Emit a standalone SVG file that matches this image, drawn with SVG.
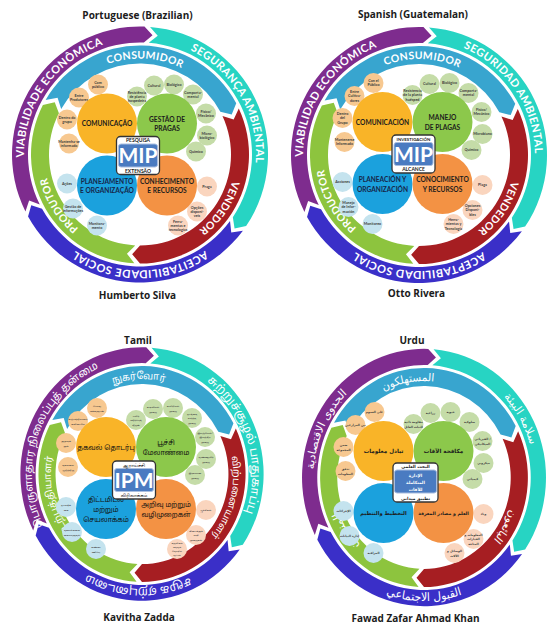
<svg xmlns="http://www.w3.org/2000/svg" xmlns:xlink="http://www.w3.org/1999/xlink" width="558" height="640" viewBox="0 0 558 640">
<style>
.ti{font-family:'Open Sans','Liberation Sans',sans-serif;font-weight:700;font-size:10px;fill:#1c1c1c;text-anchor:middle}
.ro{font-family:Lato,'Liberation Sans',sans-serif;font-weight:700;font-size:11px;fill:#fff;letter-spacing:.4px;text-anchor:middle}
.ri{font-family:Lato,'Liberation Sans',sans-serif;font-weight:700;font-size:10.5px;fill:#fff;letter-spacing:.3px;text-anchor:middle}
.rot{font-family:'Noto Sans Tamil','Lohit Tamil','Noto Sans',sans-serif;font-size:11px;fill:#fff;text-anchor:middle}
.rit{font-family:'Noto Sans Tamil','Lohit Tamil','Noto Sans',sans-serif;font-size:10px;fill:#fff;text-anchor:middle}
.roa{font-family:'DejaVu Sans',sans-serif;font-size:11.5px;fill:#fff;text-anchor:middle}
.ria{font-family:'DejaVu Sans',sans-serif;font-size:11px;fill:#fff;text-anchor:middle}
.bo{fill:#F7C890}.bg{fill:#C5DCA8}.bb{fill:#C4E3EE}.bs{fill:#FAD5BE}
.bt{font-family:Lato,'Liberation Sans',sans-serif;font-weight:700;font-size:3.7px;fill:#3b3b3b;text-anchor:middle}
.btt{font-family:'Noto Sans Tamil','Lohit Tamil','Noto Sans',sans-serif;font-size:2.4px;fill:#3b3b3b;text-anchor:middle}
.bta{font-family:'DejaVu Sans',sans-serif;font-weight:700;font-size:3px;fill:#3b3b3b;text-anchor:middle}
.lb{font-family:Lato,'Liberation Sans',sans-serif;font-weight:700;font-size:6.6px;fill:#1d1d1d;text-anchor:middle}
.lbb{fill:#16264a}
.lt{font-family:'Noto Sans Tamil','Lohit Tamil','Noto Sans',sans-serif;font-size:6.8px;fill:#111;text-anchor:middle}
.la{font-family:'DejaVu Sans',sans-serif;font-weight:700;font-size:5.6px;fill:#1d1d1d;text-anchor:middle}
.bx1{fill:#fff;stroke:#333;stroke-width:1.3}
.bx2{fill:#4A7BC1;stroke:#A9BEDF;stroke-width:1}
.mip{font-family:Lato,'Liberation Sans',sans-serif;font-weight:700;font-size:21px;fill:#fff;text-anchor:middle}
.bxt{font-family:Lato,'Liberation Sans',sans-serif;font-weight:700;font-size:5px;fill:#222;text-anchor:middle}
.bxtt{font-family:'Noto Sans Tamil','Lohit Tamil','Noto Sans',sans-serif;font-size:4.2px;fill:#222;text-anchor:middle}
.bxta{font-family:'DejaVu Sans',sans-serif;font-weight:700;font-size:4.3px;fill:#222;text-anchor:middle}
.bxtaw{font-family:'DejaVu Sans',sans-serif;font-weight:700;font-size:4.3px;fill:#fff;text-anchor:middle}
.co{fill:#F9B428}.cg{fill:#8CC84B}.cb{fill:#1BA1DD}.cs{fill:#F39244}
</style>
<defs>
<path id="aPu" d="M-74.56 88.86 A116 116 0 0 1 58 -100.46"/>
<path id="aTe" d="M-49.02 -105.13 A116 116 0 0 1 66.54 95.02"/>
<path id="aIn" d="M115.56 10.11 A116 116 0 0 1 -115.56 10.11"/>
<path id="aInR" d="M-122.53 10.72 A123 123 0 0 0 122.53 10.72"/>
<path id="aCo" d="M-95.63 -8.37 A96 96 0 0 1 95.63 -8.37"/>
<path id="aVe" d="M60.41 -74.61 A96 96 0 0 1 -46.54 83.96"/>
<path id="aPr" d="M40.57 87.01 A96 96 0 0 1 -55.06 -78.64"/>
<g id="rings">
<path fill="#27D4C3" d="M10.04 -127.61 A128 128 0 0 1 106.12 71.58 L94.56 73.88 L92.85 62.63 A112 112 0 0 0 8.79 -111.66 L17.74 -118.68 Z"/>
<path fill="#3A2FC8" d="M102.89 76.14 A128 128 0 0 1 -111.95 62.06 L-108.76 50.71 L-97.96 54.3 A112 112 0 0 0 90.03 66.62 L91.25 77.93 Z"/>
<path fill="#7E2C8E" d="M-114.55 57.11 A128 128 0 0 1 4.47 -127.92 L12.54 -119.34 L3.91 -111.93 A112 112 0 0 0 -100.23 49.97 L-110.87 45.92 Z"/>
<path fill="#38A5CF" d="M-94.4 -54.5 A109 109 0 0 1 96.24 -51.17 L91.71 -39.88 L80.35 -42.72 A91 91 0 0 0 -78.81 -45.5 L-82.41 -56.64 Z"/>
<path fill="#A61E22" d="M98.79 -46.07 A109 109 0 0 1 0 109 L-7.85 99.69 L0 91 A91 91 0 0 0 82.47 -38.46 L93.67 -35.02 Z"/>
<path fill="#8DC43E" d="M-5.7 108.85 A109 109 0 0 1 -97.12 -49.48 L-85.26 -52.25 L-81.08 -41.31 A91 91 0 0 0 -4.76 90.88 L-13.05 99.14 Z"/>
</g>
</defs>

<!-- ============ PORTUGUESE ============ -->
<g id="portuguese">
<text class="ti" x="137.5" y="19">Portuguese (Brazilian)</text>
<text class="ti" x="137.5" y="299">Humberto Silva</text>
<g id="pt-rings" transform="translate(140,154.5)">
<use href="#rings"/>
<text class="ro"><textPath href="#aPu" startOffset="50%">VIABILIDADE ECONÔMICA</textPath></text>
<text class="ro"><textPath href="#aTe" startOffset="50%">SEGURANÇA AMBIENTAL</textPath></text>
<text class="ro"><textPath href="#aIn" startOffset="50%">ACEITABILIDADE SOCIAL</textPath></text>
<text class="ri"><textPath href="#aCo" startOffset="51.8%">CONSUMIDOR</textPath></text>
<text class="ri"><textPath href="#aVe" startOffset="50%">VENDEDOR</textPath></text>
<text class="ri"><textPath href="#aPr" startOffset="48.8%">PRODUTOR</textPath></text>
</g>
<g id="pt-core" transform="translate(137,154.5)">
<g id="pt-o1" transform="translate(-39,-70)"><circle r="10" class="bo"/><text class="bt"><tspan x="0" y="-0.8">Com</tspan><tspan x="0" y="3.4">público</tspan></text></g>
<g id="pt-o2" transform="translate(-58,-57)"><circle r="10" class="bo"/><text class="bt"><tspan x="0" y="-0.8">Entre</tspan><tspan x="0" y="3.4">Produtores</tspan></text></g>
<g id="pt-o3" transform="translate(-70,-35)"><circle r="10" class="bo"/><text class="bt"><tspan x="0" y="-0.8">Dentro do</tspan><tspan x="0" y="3.4">grupo</tspan></text></g>
<g id="pt-o4" transform="translate(-68,-11)"><circle r="10" class="bo"/><text class="bt"><tspan x="0" y="-0.8">Mantenha-se</tspan><tspan x="0" y="3.4">informado</tspan></text></g>
<g id="pt-g1" transform="translate(0,-58)"><circle r="10" class="bg"/><text class="bt"><tspan x="0" y="-2.9">Resistência</tspan><tspan x="0" y="1.3">de planta</tspan><tspan x="0" y="5.5">hospedeira</tspan></text></g>
<g id="pt-g2" transform="translate(17,-69)"><circle r="10" class="bg"/><text class="bt" y="1.3">Cultural</text></g>
<g id="pt-g3" transform="translate(37,-70)"><circle r="10" class="bg"/><text class="bt" y="1.3">Biológico</text></g>
<g id="pt-g4" transform="translate(56,-60)"><circle r="10" class="bg"/><text class="bt"><tspan x="0" y="-0.8">Comporta-</tspan><tspan x="0" y="3.4">mental</tspan></text></g>
<g id="pt-g5" transform="translate(69,-41)"><circle r="10" class="bg"/><text class="bt"><tspan x="0" y="-0.8">Físico/</tspan><tspan x="0" y="3.4">Mecânico</tspan></text></g>
<g id="pt-g6" transform="translate(70,-19)"><circle r="10" class="bg"/><text class="bt"><tspan x="0" y="-0.8">Micro-</tspan><tspan x="0" y="3.4">biológico</tspan></text></g>
<g id="pt-g7" transform="translate(59,-3)"><circle r="10" class="bg"/><text class="bt" y="1.3">Químico</text></g>
<g id="pt-b1" transform="translate(-70,29)"><circle r="10" class="bb"/><text class="bt" y="1.3">Ações</text></g>
<g id="pt-b2" transform="translate(-64,54)"><circle r="10" class="bb"/><text class="bt"><tspan x="0" y="-0.8">Gestão de</tspan><tspan x="0" y="3.4">informações</tspan></text></g>
<g id="pt-b3" transform="translate(-40,71)"><circle r="10" class="bb"/><text class="bt"><tspan x="0" y="-0.8">Monitora-</tspan><tspan x="0" y="3.4">mento</tspan></text></g>
<g id="pt-s1" transform="translate(70,32)"><circle r="10" class="bs"/><text class="bt" y="1.3">Praga</text></g>
<g id="pt-s2" transform="translate(60,57)"><circle r="10" class="bs"/><text class="bt"><tspan x="0" y="-2.9">Opções</tspan><tspan x="0" y="1.3">disponí-</tspan><tspan x="0" y="5.5">veis</tspan></text></g>
<g id="pt-s3" transform="translate(41,71)"><circle r="10" class="bs"/><text class="bt"><tspan x="0" y="-2.9">Ferra-</tspan><tspan x="0" y="1.3">mentas e</tspan><tspan x="0" y="5.5">tecnologias</tspan></text></g>
<g id="pt-com" transform="translate(-30,-31)"><circle r="30" class="co"/><text class="lb" y="2.5">COMUNICAÇÃO</text></g>
<g id="pt-ges" transform="translate(30,-31)"><circle r="30" class="cg"/><text class="lb"><tspan x="0" y="-2">GESTÃO DE</tspan><tspan x="0" y="7.8">PRAGAS</tspan></text></g>
<g id="pt-pla" transform="translate(-30,31)"><circle r="30" class="cb"/><text class="lb lbb"><tspan x="0" y="-2">PLANEJAMENTO</tspan><tspan x="0" y="7.8">E ORGANIZAÇÃO</tspan></text></g>
<g id="pt-con" transform="translate(30,31)"><circle r="30" class="cs"/><text class="lb"><tspan x="0" y="-2">CONHECIMENTO</tspan><tspan x="0" y="7.8">E RECURSOS</tspan></text></g>
<g id="pt-mip" transform="translate(1,1)"><rect x="-21.5" y="-19" width="43" height="38" rx="4" class="bx1"/><rect x="-19.5" y="-11.5" width="39" height="23" rx="2.5" class="bx2"/><text class="mip" y="7.5">MIP</text><text class="bxt" y="-13.3">PESQUISA</text><text class="bxt" y="17">EXTENSÃO</text></g>
</g>
</g>

<!-- ============ SPANISH ============ -->
<g id="spanish">
<text class="ti" x="413" y="18">Spanish (Guatemalan)</text>
<text class="ti" x="416.5" y="297">Otto Rivera</text>
<g id="es-rings" transform="translate(419,155)">
<use href="#rings"/>
<text class="ro"><textPath href="#aPu" startOffset="49.4%">VIABILIDAD ECONÓMICA</textPath></text>
<text class="ro"><textPath href="#aTe" startOffset="47.6%">SEGURIDAD AMBIENTAL</textPath></text>
<text class="ro"><textPath href="#aIn" startOffset="50%">ACEPTABILIDAD SOCIAL</textPath></text>
<text class="ri"><textPath href="#aCo" startOffset="51.2%">CONSUMIDOR</textPath></text>
<text class="ri"><textPath href="#aVe" startOffset="50%">VENDEDOR</textPath></text>
<text class="ri"><textPath href="#aPr" startOffset="50.6%">PRODUCTOR</textPath></text>
</g>
<g id="es-core" transform="translate(412.5,153)">
<g id="es-o1" transform="translate(-39,-70)"><circle r="10" class="bo"/><text class="bt"><tspan x="0" y="-0.8">Con el</tspan><tspan x="0" y="3.4">Público</tspan></text></g>
<g id="es-o2" transform="translate(-58,-57)"><circle r="10" class="bo"/><text class="bt"><tspan x="0" y="-2.9">Entre</tspan><tspan x="0" y="1.3">Cultiva-</tspan><tspan x="0" y="5.5">dores</tspan></text></g>
<g id="es-o3" transform="translate(-70,-35)"><circle r="10" class="bo"/><text class="bt"><tspan x="0" y="-2.9">Dentro</tspan><tspan x="0" y="1.3">del</tspan><tspan x="0" y="5.5">Grupo</tspan></text></g>
<g id="es-o4" transform="translate(-68,-11)"><circle r="10" class="bo"/><text class="bt"><tspan x="0" y="-0.8">Mantenerse</tspan><tspan x="0" y="3.4">Informado</tspan></text></g>
<g id="es-g1" transform="translate(0,-58)"><circle r="10" class="bg"/><text class="bt"><tspan x="0" y="-2.9">Resistencia</tspan><tspan x="0" y="1.3">de la planta</tspan><tspan x="0" y="5.5">huésped</tspan></text></g>
<g id="es-g2" transform="translate(17,-69)"><circle r="10" class="bg"/><text class="bt" y="1.3">Cultural</text></g>
<g id="es-g3" transform="translate(37,-70)"><circle r="10" class="bg"/><text class="bt" y="1.3">Biológico</text></g>
<g id="es-g4" transform="translate(56,-60)"><circle r="10" class="bg"/><text class="bt"><tspan x="0" y="-0.8">Comporta-</tspan><tspan x="0" y="3.4">mental</tspan></text></g>
<g id="es-g5" transform="translate(69,-41)"><circle r="10" class="bg"/><text class="bt"><tspan x="0" y="-0.8">Físico/</tspan><tspan x="0" y="3.4">Mecánico</tspan></text></g>
<g id="es-g6" transform="translate(70,-19)"><circle r="10" class="bg"/><text class="bt" y="1.3">Microbiano</text></g>
<g id="es-g7" transform="translate(59,-3)"><circle r="10" class="bg"/><text class="bt" y="1.3">Químico</text></g>
<g id="es-b1" transform="translate(-70,29)"><circle r="10" class="bb"/><text class="bt" y="1.3">Acciones</text></g>
<g id="es-b2" transform="translate(-64,54)"><circle r="10" class="bb"/><text class="bt"><tspan x="0" y="-2.9">Manejo</tspan><tspan x="0" y="1.3">de Infor-</tspan><tspan x="0" y="5.5">mación</tspan></text></g>
<g id="es-b3" transform="translate(-40,71)"><circle r="10" class="bb"/><text class="bt" y="1.3">Monitoreo</text></g>
<g id="es-s1" transform="translate(70,32)"><circle r="10" class="bs"/><text class="bt" y="1.3">Plaga</text></g>
<g id="es-s2" transform="translate(60,57)"><circle r="10" class="bs"/><text class="bt"><tspan x="0" y="-2.9">Opciones</tspan><tspan x="0" y="1.3">Disponi-</tspan><tspan x="0" y="5.5">bles</tspan></text></g>
<g id="es-s3" transform="translate(41,71)"><circle r="10" class="bs"/><text class="bt"><tspan x="0" y="-2.9">Herra-</tspan><tspan x="0" y="1.3">mientas y</tspan><tspan x="0" y="5.5">Tecnología</tspan></text></g>
<g id="es-com" transform="translate(-30,-31)"><circle r="30" class="co"/><text class="lb" y="2.5">COMUNICACIÓN</text></g>
<g id="es-man" transform="translate(30,-31)"><circle r="30" class="cg"/><text class="lb"><tspan x="0" y="-2">MANEJO</tspan><tspan x="0" y="7.8">DE PLAGAS</tspan></text></g>
<g id="es-pla" transform="translate(-30,31)"><circle r="30" class="cb"/><text class="lb lbb"><tspan x="0" y="-2">PLANEACIÓN Y</tspan><tspan x="0" y="7.8">ORGANIZACIÓN</tspan></text></g>
<g id="es-con" transform="translate(30,31)"><circle r="30" class="cs"/><text class="lb"><tspan x="0" y="-2">CONOCIMIENTO</tspan><tspan x="0" y="7.8">Y RECURSOS</tspan></text></g>
<g id="es-mip" transform="translate(1,1)"><rect x="-21.5" y="-19" width="43" height="38" rx="4" class="bx1"/><rect x="-19.5" y="-11.5" width="39" height="23" rx="2.5" class="bx2"/><text class="mip" y="7.5">MIP</text><text class="bxt" y="-13.3" style="font-size:4.4px">INVESTIGACIÓN</text><text class="bxt" y="17">ALCANCE</text></g>
</g>
</g>

<!-- ============ TAMIL ============ -->
<g id="tamil">
<text class="ti" x="138" y="344">Tamil</text>
<text class="ti" x="139" y="621">Kavitha Zadda</text>
<g id="ta-rings" transform="translate(142,474) scale(0.95,0.99)">
<use href="#rings"/>
<text class="rot"><textPath href="#aPu" startOffset="41.2%">பொருளாதார நிலைப்புத் தன்மை</textPath></text>
<text class="rot" style="font-size:12px"><textPath href="#aTe" startOffset="57.6%">சுற்றுச்சூழல் பாதுகாப்பு</textPath></text>
<text class="rot" style="font-size:12px"><textPath href="#aIn" startOffset="51.2%">சமூக ஏற்புடைமை</textPath></text>
<text class="rit"><textPath href="#aCo" startOffset="48.8%">நுகர்வோர்</textPath></text>
<text class="rit"><textPath href="#aVe" startOffset="38.8%">விற்பனையாளர்</textPath></text>
<text class="rit"><textPath href="#aPr" startOffset="60%">உற்பத்தியாளர்</textPath></text>
</g>
<g id="ta-core" transform="translate(136,478)">
<g id="ta-o1" transform="translate(-39,-70)"><circle r="10" class="bo"/><text class="btt"><tspan x="0" y="-1.2">பொது</tspan><tspan x="0" y="3.6">மக்களுடன்</tspan></text></g>
<g id="ta-o2" transform="translate(-58,-57)"><circle r="10" class="bo"/><text class="btt"><tspan x="0" y="-1.2">உற்பத்தியாளர்</tspan><tspan x="0" y="3.6">களிடையே</tspan></text></g>
<g id="ta-o3" transform="translate(-70,-35)"><circle r="10" class="bo"/><text class="btt"><tspan x="0" y="-1.2">குழுவுக்</tspan><tspan x="0" y="3.6">குள்</tspan></text></g>
<g id="ta-o4" transform="translate(-68,-11)"><circle r="10" class="bo"/><text class="btt"><tspan x="0" y="-1.2">தகவலை</tspan><tspan x="0" y="3.6">அறிந்திரு</tspan></text></g>
<g id="ta-g1" transform="translate(0,-58)"><circle r="10" class="bg"/><text class="btt"><tspan x="0" y="-3.5">பயிர்</tspan><tspan x="0" y="1.2">எதிர்ப்புத்</tspan><tspan x="0" y="5.9">திறன்</tspan></text></g>
<g id="ta-g2" transform="translate(17,-69)"><circle r="10" class="bg"/><text class="btt"><tspan x="0" y="-1.2">உழவியல்</tspan><tspan x="0" y="3.6">முறை</tspan></text></g>
<g id="ta-g3" transform="translate(37,-70)"><circle r="10" class="bg"/><text class="btt"><tspan x="0" y="-1.2">உயிரியல்</tspan><tspan x="0" y="3.6">முறை</tspan></text></g>
<g id="ta-g4" transform="translate(56,-60)"><circle r="10" class="bg"/><text class="btt"><tspan x="0" y="-3.5">நடத்தை</tspan><tspan x="0" y="1.2">சார்ந்த</tspan><tspan x="0" y="5.9">முறை</tspan></text></g>
<g id="ta-g5" transform="translate(69,-41)"><circle r="10" class="bg"/><text class="btt"><tspan x="0" y="-3.5">இயற்பியல்/</tspan><tspan x="0" y="1.2">இயந்திர</tspan><tspan x="0" y="5.9">முறை</tspan></text></g>
<g id="ta-g6" transform="translate(70,-19)"><circle r="10" class="bg"/><text class="btt"><tspan x="0" y="-1.2">நுண்ணுயிர்</tspan><tspan x="0" y="3.6">முறை</tspan></text></g>
<g id="ta-g7" transform="translate(59,-3)"><circle r="10" class="bg"/><text class="btt"><tspan x="0" y="-1.2">இரசாயன</tspan><tspan x="0" y="3.6">முறை</tspan></text></g>
<g id="ta-b1" transform="translate(-70,29)"><circle r="10" class="bb"/><text class="btt"><tspan x="0" y="-1.2">நடவடிக்</tspan><tspan x="0" y="3.6">கை</tspan></text></g>
<g id="ta-b2" transform="translate(-64,54)"><circle r="10" class="bb"/><text class="btt"><tspan x="0" y="-1.2">தகவல்களை</tspan><tspan x="0" y="3.6">கையாளுதல்</tspan></text></g>
<g id="ta-b3" transform="translate(-40,71)"><circle r="10" class="bb"/><text class="btt"><tspan x="0" y="-1.2">கண்கா</tspan><tspan x="0" y="3.6">ணிப்பு</tspan></text></g>
<g id="ta-s1" transform="translate(70,32)"><circle r="10" class="bs"/><text class="btt" y="1.2">பூச்சிகள்</text></g>
<g id="ta-s2" transform="translate(60,57)"><circle r="10" class="bs"/><text class="btt"><tspan x="0" y="-3.5">கிடைக்கும்</tspan><tspan x="0" y="1.2">வழி</tspan><tspan x="0" y="5.9">முறைகள்</tspan></text></g>
<g id="ta-s3" transform="translate(41,71)"><circle r="10" class="bs"/><text class="btt" style="font-size:2.2px"><tspan x="0" y="-5.2">கருவிகள்</tspan><tspan x="0" y="-1">மற்றும்</tspan><tspan x="0" y="3.2">தொழில்</tspan><tspan x="0" y="7.4">நுட்பம்</tspan></text></g>
<g id="ta-com" transform="translate(-30,-31)"><circle r="30" class="co"/><text class="lt" y="2.5">தகவல் தொடர்பு</text></g>
<g id="ta-pest" transform="translate(30,-31)"><circle r="30" class="cg"/><text class="lt"><tspan x="0" y="-2.5">பூச்சி</tspan><tspan x="0" y="7.5">மேலாண்மை</tspan></text></g>
<g id="ta-plan" transform="translate(-30,31)"><circle r="30" class="cb"/><text class="lt"><tspan x="0" y="-7.5">திட்டமிடல்</tspan><tspan x="0" y="2.5">மற்றும்</tspan><tspan x="0" y="12.5">செயலாக்கம்</tspan></text></g>
<g id="ta-know" transform="translate(30,31)"><circle r="30" class="cs"/><text class="lt"><tspan x="0" y="-2">அறிவு மற்றும்</tspan><tspan x="0" y="8">வழிமுறைகள்</tspan></text></g>
<g id="ta-ipm" transform="translate(-2,2)"><rect x="-21.5" y="-19" width="43" height="38" rx="4" class="bx1"/><rect x="-19.5" y="-11.5" width="39" height="23" rx="2.5" class="bx2"/><text class="mip" y="7.5">IPM</text><text class="bxtt" y="-13.3">ஆராய்ச்சி</text><text class="bxtt" y="17">விரிவாக்கம்</text></g>
</g>
</g>

<!-- ============ URDU ============ -->
<g id="urdu">
<text class="ti" x="412" y="344">Urdu</text>
<text class="ti" x="415.5" y="622">Fawad Zafar Ahmad Khan</text>
<g id="ur-rings" transform="translate(424,477.5) scale(0.953,1.005)">
<use href="#rings"/>
<text class="roa"><textPath href="#aPu" startOffset="44.1%">الجدوى الاقتصادية</textPath></text>
<text class="roa"><textPath href="#aTe" startOffset="50%">سلامة البيئة</textPath></text>
<text class="roa"><textPath href="#aInR" startOffset="50%">القبول الاجتماعي</textPath></text>
<text class="ria"><textPath href="#aCo" startOffset="44.1%">المستهلكون</textPath></text>
<text class="ria"><textPath href="#aVe" startOffset="47.6%">البائعون</textPath></text>
<text class="ria"><textPath href="#aPr" startOffset="48.2%">المنتجون</textPath></text>
</g>
<g id="ur-core" transform="translate(413.5,482)">
<g id="ur-o1" transform="translate(-39,-70)"><circle r="10" class="bo"/><text class="bta" y="1.2">على العموم</text></g>
<g id="ur-o2" transform="translate(-58,-57)"><circle r="10" class="bo"/><text class="bta" y="1.2">بين المزارعين</text></g>
<g id="ur-o3" transform="translate(-70,-35)"><circle r="10" class="bo"/><text class="bta"><tspan x="0" y="-1">ضمن</tspan><tspan x="0" y="3.6">المجموعة</tspan></text></g>
<g id="ur-o4" transform="translate(-68,-11)"><circle r="10" class="bo"/><text class="bta"><tspan x="0" y="-1">تدفق</tspan><tspan x="0" y="3.6">المعلومات</tspan></text></g>
<g id="ur-g1" transform="translate(0,-58)"><circle r="10" class="bg"/><text class="bta"><tspan x="0" y="-1">مقاومة ذاتية</tspan><tspan x="0" y="3.6">للنبات العائل</tspan></text></g>
<g id="ur-g2" transform="translate(17,-69)"><circle r="10" class="bg"/><text class="bta" y="1.2">زراعية</text></g>
<g id="ur-g3" transform="translate(37,-70)"><circle r="10" class="bg"/><text class="bta" y="1.2">حيوية</text></g>
<g id="ur-g4" transform="translate(56,-60)"><circle r="10" class="bg"/><text class="bta" y="1.2">سلوكية</text></g>
<g id="ur-g5" transform="translate(69,-41)"><circle r="10" class="bg"/><text class="bta"><tspan x="0" y="-1">الفيزيائي /</tspan><tspan x="0" y="3.6">الميكانيكي</tspan></text></g>
<g id="ur-g6" transform="translate(70,-19)"><circle r="10" class="bg"/><text class="bta" y="1.2">ميكروبي</text></g>
<g id="ur-g7" transform="translate(59,-3)"><circle r="10" class="bg"/><text class="bta" y="1.2">كيميائي</text></g>
<g id="ur-b1" transform="translate(-70,29)"><circle r="10" class="bb"/><text class="bta" y="1.2">الإجراءات</text></g>
<g id="ur-b2" transform="translate(-64,54)"><circle r="10" class="bb"/><text class="bta" y="1.2">إدارة البيانات</text></g>
<g id="ur-b3" transform="translate(-40,71)"><circle r="10" class="bb"/><text class="bta" y="1.2">المراقبة</text></g>
<g id="ur-s1" transform="translate(70,32)"><circle r="10" class="bs"/><text class="bta" y="1.2">وباء</text></g>
<g id="ur-s2" transform="translate(60,57)"><circle r="10" class="bs"/><text class="bta"><tspan x="0" y="-3.4">المعلومات و</tspan><tspan x="0" y="1.2">الخيارات</tspan><tspan x="0" y="5.8">المتاحة</tspan></text></g>
<g id="ur-s3" transform="translate(41,71)"><circle r="10" class="bs"/><text class="bta"><tspan x="0" y="-1">الوسائل و</tspan><tspan x="0" y="3.6">الآلات</tspan></text></g>
<g id="ur-com" transform="translate(-30,-31)"><circle r="30" class="co"/><text class="la" y="2">تبادل معلومات</text></g>
<g id="ur-pest" transform="translate(30,-31)"><circle r="30" class="cg"/><text class="la" y="2">مكافحة الآفات</text></g>
<g id="ur-plan" transform="translate(-30,31)"><circle r="30" class="cb"/><text class="la" y="2" style="font-size:5.2px">التخطيط والتنظيم</text></g>
<g id="ur-know" transform="translate(30,31)"><circle r="30" class="cs"/><text class="la" y="2" style="font-size:4.6px">العلم و مصادر المعرفة</text></g>
<g id="ur-ipm" transform="translate(2,0.5)"><rect x="-22.5" y="-19.5" width="45" height="39" rx="4" class="bx1"/><rect x="-21" y="-12.5" width="42" height="23" rx="2.5" class="bx2"/><text class="bxta" y="-14.2">البحث العلمي</text><text class="bxtaw" y="-5.5">الإدارة</text><text class="bxtaw" y="1.3">المتكاملة</text><text class="bxtaw" y="8.1">للآفات</text><text class="bxta" y="17">تطبيق ميداني</text></g>
</g>
</g>
</svg>
